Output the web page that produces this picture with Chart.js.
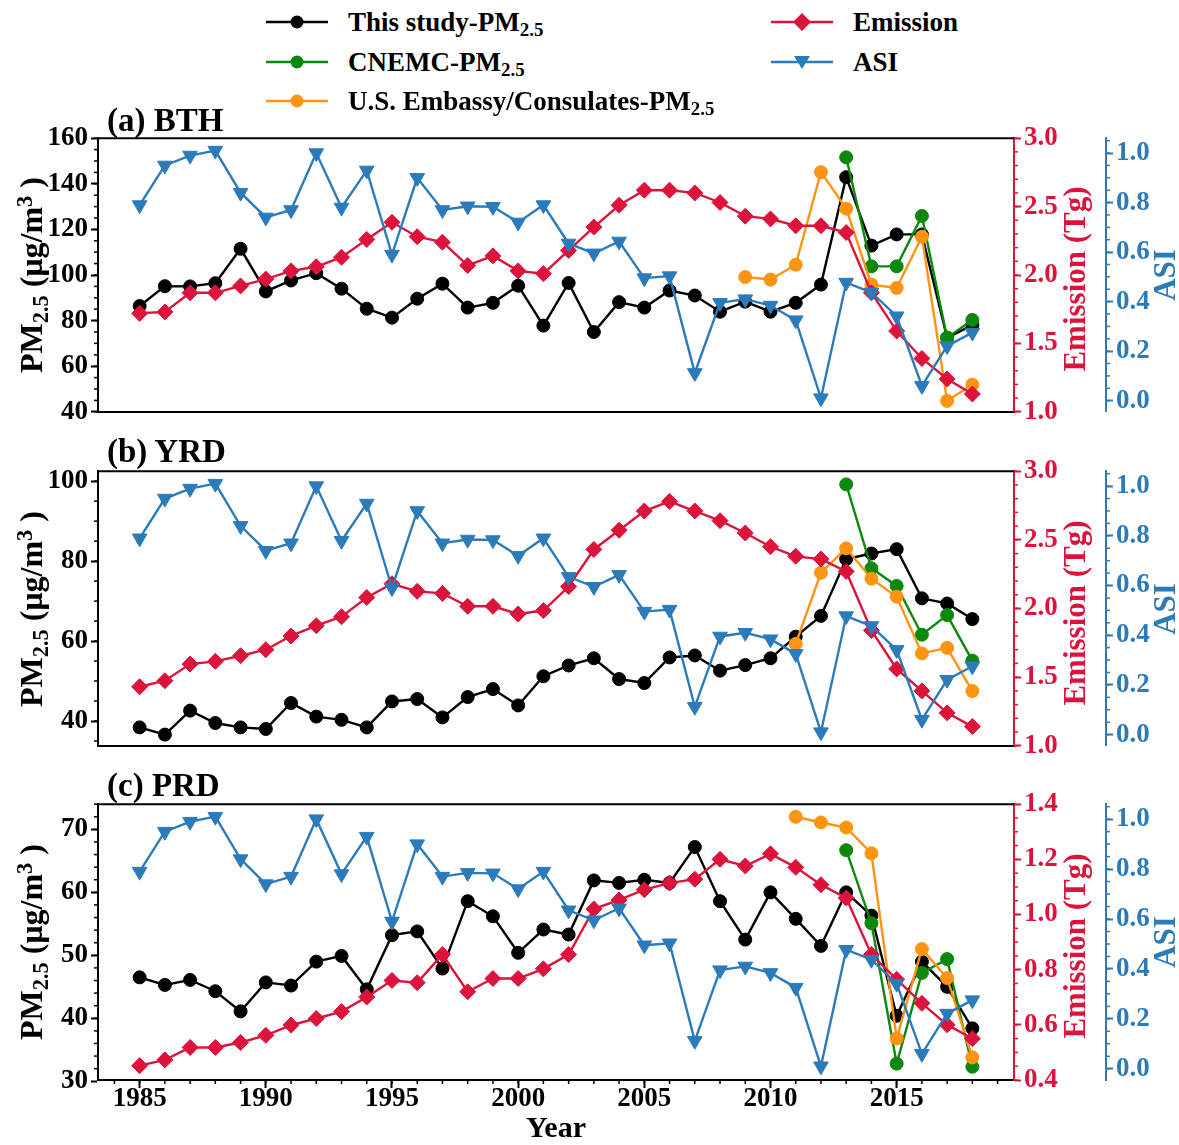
<!DOCTYPE html>
<html>
<head>
<meta charset="utf-8">
<script src="https://cdn.jsdelivr.net/npm/chart.js@4.4.1/dist/chart.umd.min.js"></script>
<style>
  body { margin: 0; background: #fff; }
  #wrap { position: relative; width: 1179px; height: 1145px; overflow: hidden;
          font-family: "Liberation Serif", "Times New Roman", serif; font-weight: bold; }
  canvas { position: absolute; left: 0; }
  .txt { position: absolute; white-space: nowrap; line-height: 1; z-index: 2; }
  .rot { transform: translate(-50%, -50%) rotate(-90deg); }
  sub { font-size: 70%; vertical-align: -0.28em; line-height: 0; }
  sup { font-size: 70%; vertical-align: 0.45em; line-height: 0; }
  .leg { position: absolute; display: flex; align-items: center; font-size: 27px; white-space: nowrap; z-index: 2; }
  .leg svg { margin-right: 20px; }
</style>
</head>
<body>
<div id="wrap">
  <canvas id="cA" width="1179" height="312" style="top:119px"></canvas>
  <canvas id="cB" width="1179" height="313" style="top:452px"></canvas>
  <canvas id="cC" width="1179" height="360" style="top:785px"></canvas>
</div>
<script>
// years on the x axis
const years = [1985, 1986, 1987, 1988, 1989, 1990, 1991, 1992, 1993, 1994,
  1995, 1996, 1997, 1998, 1999, 2000, 2001, 2002, 2003, 2004,
  2005, 2006, 2007, 2008, 2009, 2010, 2011, 2012, 2013, 2014,
  2015, 2016, 2017, 2018];
const cnemcYears = [2013, 2014, 2015, 2016, 2017, 2018];
const bthUsYears = [2009, 2010, 2011, 2012, 2013, 2014, 2015, 2016, 2017, 2018];
const usYears = [2011, 2012, 2013, 2014, 2015, 2016, 2017, 2018];

// ASI (same index in all three panels)
const asi = [0.79, 0.95, 0.99, 1.01, 0.84, 0.74, 0.77, 1.00, 0.78, 0.93,
  0.59, 0.90, 0.77, 0.785, 0.783, 0.72, 0.79, 0.635, 0.595, 0.643,
  0.495, 0.503, 0.112, 0.395, 0.41, 0.384, 0.325, 0.01, 0.477, 0.437,
  0.341, 0.06, 0.221, 0.275];

// (a) BTH
const bthStudy = [86.4, 95.1, 95.0, 96.4, 111.5, 92.8, 97.6, 100.8, 94.0, 85.2,
  81.3, 89.6, 96.2, 85.7, 87.8, 95.3, 77.8, 96.5, 75.0, 88.1,
  85.7, 93.2, 91.0, 83.9, 88.3, 83.9, 87.8, 95.8, 142.9, 112.9,
  117.8, 117.8, 72.5, 78.0];
const bthCnemc = [151.6, 103.8, 103.8, 125.9, 72.5, 80.3];
const bthUs = [99.1, 98.0, 104.5, 145.1, 129.1, 95.8, 94.3, 116.8, 44.8, 51.9];
const bthEmis = [1.72, 1.73, 1.87, 1.87, 1.92, 1.97, 2.03, 2.06, 2.13, 2.26,
  2.385, 2.28, 2.24, 2.07, 2.14, 2.03, 2.01, 2.18, 2.35, 2.51,
  2.62, 2.62, 2.60, 2.53, 2.43, 2.41, 2.36, 2.36, 2.31, 1.87,
  1.59, 1.39, 1.24, 1.13];

// (b) YRD
const yrdStudy = [38.4, 36.6, 42.6, 39.5, 38.4, 38.0, 44.5, 41.1, 40.3, 38.4,
  44.9, 45.5, 40.9, 46.0, 48.0, 43.9, 51.2, 53.9, 55.7, 50.5,
  49.5, 55.9, 56.4, 52.6, 54.0, 55.7, 61.1, 66.3, 80.5, 81.9,
  83.0, 70.7, 69.4, 65.5];
const yrdCnemc = [99.2, 78.2, 73.8, 61.6, 66.5, 55.1];
const yrdUs = [59.3, 77.1, 83.2, 75.6, 71.1, 56.9, 58.3, 47.5];
const yrdEmis = [1.43, 1.474, 1.595, 1.615, 1.656, 1.70, 1.80, 1.875, 1.94, 2.08,
  2.18, 2.125, 2.11, 2.016, 2.016, 1.96, 1.985, 2.16, 2.43, 2.57,
  2.71, 2.78, 2.71, 2.64, 2.55, 2.45, 2.38, 2.36, 2.27, 1.84,
  1.56, 1.40, 1.24, 1.14];

// (c) PRD
const prdStudy = [46.5, 45.3, 46.1, 44.3, 41.1, 45.7, 45.2, 49.0, 49.9, 44.6,
  53.2, 53.8, 47.9, 58.6, 56.2, 50.4, 54.1, 53.3, 61.9, 61.5,
  62.0, 61.5, 67.2, 58.6, 52.5, 60.0, 55.8, 51.5, 60.0, 56.3,
  40.4, 49.0, 45.0, 38.4];
const prdCnemc = [66.7, 55.1, 32.8, 47.2, 49.4, 32.3];
const prdUs = [72.0, 71.1, 70.3, 66.2, 36.8, 51.0, 46.4, 33.8];
const prdEmis = [0.452, 0.473, 0.518, 0.518, 0.536, 0.562, 0.599, 0.623, 0.648, 0.701,
  0.761, 0.753, 0.855, 0.72, 0.768, 0.768, 0.803, 0.855, 1.02, 1.053,
  1.09, 1.114, 1.128, 1.20, 1.176, 1.22, 1.171, 1.108, 1.06, 0.855,
  0.765, 0.678, 0.60, 0.55];

// tick labels
const xTicks = [1985, 1990, 1995, 2000, 2005, 2010, 2015];
const bthPmTicks = [40, 60, 80, 100, 120, 140, 160];
const yrdPmTicks = [40, 60, 80, 100];
const prdPmTicks = [30, 40, 50, 60, 70];
const emisTicksAB = [1.0, 1.5, 2.0, 2.5, 3.0];
const emisTicksC = [0.4, 0.6, 0.8, 1.0, 1.2, 1.4];
const asiTicks = [0.0, 0.2, 0.4, 0.6, 0.8, 1.0];

const FONT = '"Liberation Serif", "Times New Roman", serif';
const C_STUDY = "#000000";
const C_CNEMC = "#0c880c";
const C_US = "#ff9312";
const C_EMIS = "#dc143c";
const C_ASI = "#2b7bbb";

const pts = (xs, ys) => xs.map((x, i) => ({ x: x, y: ys[i] }));

function series(data, color, style, radius, axis, order, rot) {
  return {
    data: data, borderColor: color, backgroundColor: color, borderWidth: 2.4,
    pointStyle: style, pointRadius: radius, pointBorderWidth: 1, pointRotation: rot || 0,
    pointHoverRadius: radius, yAxisID: axis, order: order, tension: 0, fill: false,
  };
}

// matplotlib-like minor ticks on the axes
const minorTicks = {
  id: "minorTicks",
  beforeDatasetsDraw(chart, args, opts) {
    const ctx = chart.ctx;
    ctx.save();
    ctx.lineWidth = 1.5;
    for (const [id, step, color] of opts.list) {
      const s = chart.scales[id];
      ctx.strokeStyle = color;
      for (let k = Math.ceil(s.min / step - 1e-6); k * step <= s.max + 1e-9; k++) {
        const p = s.getPixelForValue(k * step);
        ctx.beginPath();
        if (s.isHorizontal()) { ctx.moveTo(p, s.top); ctx.lineTo(p, s.top + 4); }
        else if (s.position === "left") { ctx.moveTo(s.right, p); ctx.lineTo(s.right - 4, p); }
        else { ctx.moveTo(s.left, p); ctx.lineTo(s.left + 4, p); }
        ctx.stroke();
      }
    }
    // top spine
    const a = chart.chartArea;
    ctx.strokeStyle = "#000";
    ctx.lineWidth = 2;
    ctx.beginPath();
    ctx.moveTo(a.left - 1, a.top);
    ctx.lineTo(a.right, a.top);
    ctx.stroke();
    ctx.restore();
  },
};

function yScale(pos, weight, min, max, ticks, color, width, fmt) {
  return {
    type: "linear", position: pos, weight: weight, min: min, max: max,
    afterBuildTicks: (s) => { s.ticks = ticks.map((v) => ({ value: v })); },
    afterFit: (s) => { s.width = width; },
    ticks: { color: color, padding: 3, font: { family: FONT, size: 27, weight: "bold" }, callback: fmt },
    grid: { display: true, drawOnChartArea: false, drawTicks: true, tickLength: 7, tickWidth: 2, tickColor: color },
    border: { display: true, color: color, width: 2 },
  };
}

function panel(id, p) {
  const showX = !!p.showX;
  return new Chart(document.getElementById(id), {
    type: "line",
    data: {
      datasets: [
        series(pts(years, asi), C_ASI, "triangle", 8.5, "yA", 0, 180),
        series(pts(years, p.emis), C_EMIS, "rectRot", 8, "yE", 1),
        series(pts(p.usYears, p.us), C_US, "circle", 6.5, "y", 2),
        series(pts(cnemcYears, p.cnemc), C_CNEMC, "circle", 6.5, "y", 3),
        series(pts(years, p.study), C_STUDY, "circle", 6.5, "y", 4),
      ],
    },
    options: {
      responsive: false, animation: false,
      layout: { padding: { top: 18, bottom: 0, left: 0, right: 0 } },
      plugins: {
        legend: { display: false }, tooltip: { enabled: false },
        minorTicks: { list: p.minor },
      },
      scales: {
        x: {
          type: "linear", position: "bottom", min: 1983.35, max: 2019.65,
          afterBuildTicks: (s) => { s.ticks = xTicks.map((v) => ({ value: v })); },
          afterFit: (s) => { s.height = p.xHeight; },
          ticks: { display: showX, color: "#000", padding: -5, maxRotation: 0, autoSkip: false,
                   font: { family: FONT, size: 27, weight: "bold" }, callback: (v) => String(v) },
          grid: { display: showX, drawOnChartArea: false, drawTicks: true, tickLength: 8, tickWidth: 2, tickColor: "#000" },
          border: { display: true, color: "#000", width: 2 },
        },
        y: yScale("left", 0, p.pmMin, p.pmMax, p.pmTicks, "#000", 98, (v) => String(v)),
        yE: yScale("right", 0, p.eMin, p.eMax, p.eTicks, C_EMIS, 92, (v) => v.toFixed(1)),
        yA: yScale("right", 1, -0.045, 1.06, asiTicks, C_ASI, 73, (v) => v.toFixed(1)),
      },
    },
    plugins: [minorTicks],
  });
}

const minorAB = [["y", 5, "#000"], ["yE", 0.1, C_EMIS], ["yA", 0.05, C_ASI]];

panel("cA", {
  study: bthStudy, cnemc: bthCnemc, us: bthUs, usYears: bthUsYears, emis: bthEmis,
  pmMin: 40, pmMax: 160, pmTicks: bthPmTicks, eMin: 1, eMax: 3, eTicks: emisTicksAB,
  xHeight: 18, minor: minorAB,
});
panel("cB", {
  study: yrdStudy, cnemc: yrdCnemc, us: yrdUs, usYears: usYears, emis: yrdEmis,
  pmMin: 33.8, pmMax: 102.5, pmTicks: yrdPmTicks, eMin: 1, eMax: 3, eTicks: emisTicksAB,
  xHeight: 18, minor: minorAB,
});
panel("cC", {
  study: prdStudy, cnemc: prdCnemc, us: prdUs, usYears: usYears, emis: prdEmis,
  pmMin: 30.2, pmMax: 74, pmTicks: prdPmTicks, eMin: 0.4, eMax: 1.4, eTicks: emisTicksC,
  xHeight: 65, showX: true,
  minor: [["x", 1, "#000"], ["y", 2, "#000"], ["yE", 0.05, C_EMIS], ["yA", 0.05, C_ASI]],
});

// text that needs sub/superscripts goes in as html
const wrap = document.getElementById("wrap");
function addText(html, css, cls) {
  const d = document.createElement("div");
  d.className = "txt " + (cls || "");
  d.innerHTML = html;
  Object.assign(d.style, css);
  wrap.appendChild(d);
}
const panels = [["(a) BTH", 104, 275], ["(b) YRD", 435, 608.5], ["(c) PRD", 769, 941.5]];
for (const [title, top, mid] of panels) {
  addText(title, { left: "107px", top: top + "px", fontSize: "33px" });
  addText("PM<sub>2.5</sub> (μg/m<sup>3</sup> )", { left: "31px", top: mid + "px", fontSize: "32px" }, "rot");
  addText("Emission (Tg)", { left: "1074px", top: (mid + 4) + "px", fontSize: "31px", color: C_EMIS }, "rot");
  addText("ASI", { left: "1164px", top: mid + "px", fontSize: "31px", color: C_ASI }, "rot");
}
addText("Year", { left: "556px", top: "1127px", fontSize: "30px", transform: "translate(-50%, -50%)" });

// legend
function icon(color, shape) {
  let m = '<circle cx="31" cy="11" r="6.5" fill="' + color + '"/>';
  if (shape === "diamond") m = '<polygon points="31,2 40,11 31,20 22,11" fill="' + color + '"/>';
  if (shape === "tri") m = '<polygon points="23,5 39,5 31,18" fill="' + color + '"/>';
  return '<svg width="62" height="22"><line x1="0" y1="11" x2="62" y2="11" stroke="' + color +
    '" stroke-width="2.5"/>' + m + "</svg>";
}
const legendItems = [
  [266, 22, C_STUDY, "circle", "This study-PM<sub>2.5</sub>"],
  [266, 62, C_CNEMC, "circle", "CNEMC-PM<sub>2.5</sub>"],
  [266, 101, C_US, "circle", "U.S. Embassy/Consulates-PM<sub>2.5</sub>"],
  [771, 22, C_EMIS, "diamond", "Emission"],
  [771, 62, C_ASI, "tri", "ASI"],
];
for (const [x, y, c, s, label] of legendItems) {
  const d = document.createElement("div");
  d.className = "leg";
  d.style.left = x + "px";
  d.style.top = (y - 16) + "px";
  d.style.height = "32px";
  d.innerHTML = icon(c, s) + "<span>" + label + "</span>";
  wrap.appendChild(d);
}
</script>
</body>
</html>
